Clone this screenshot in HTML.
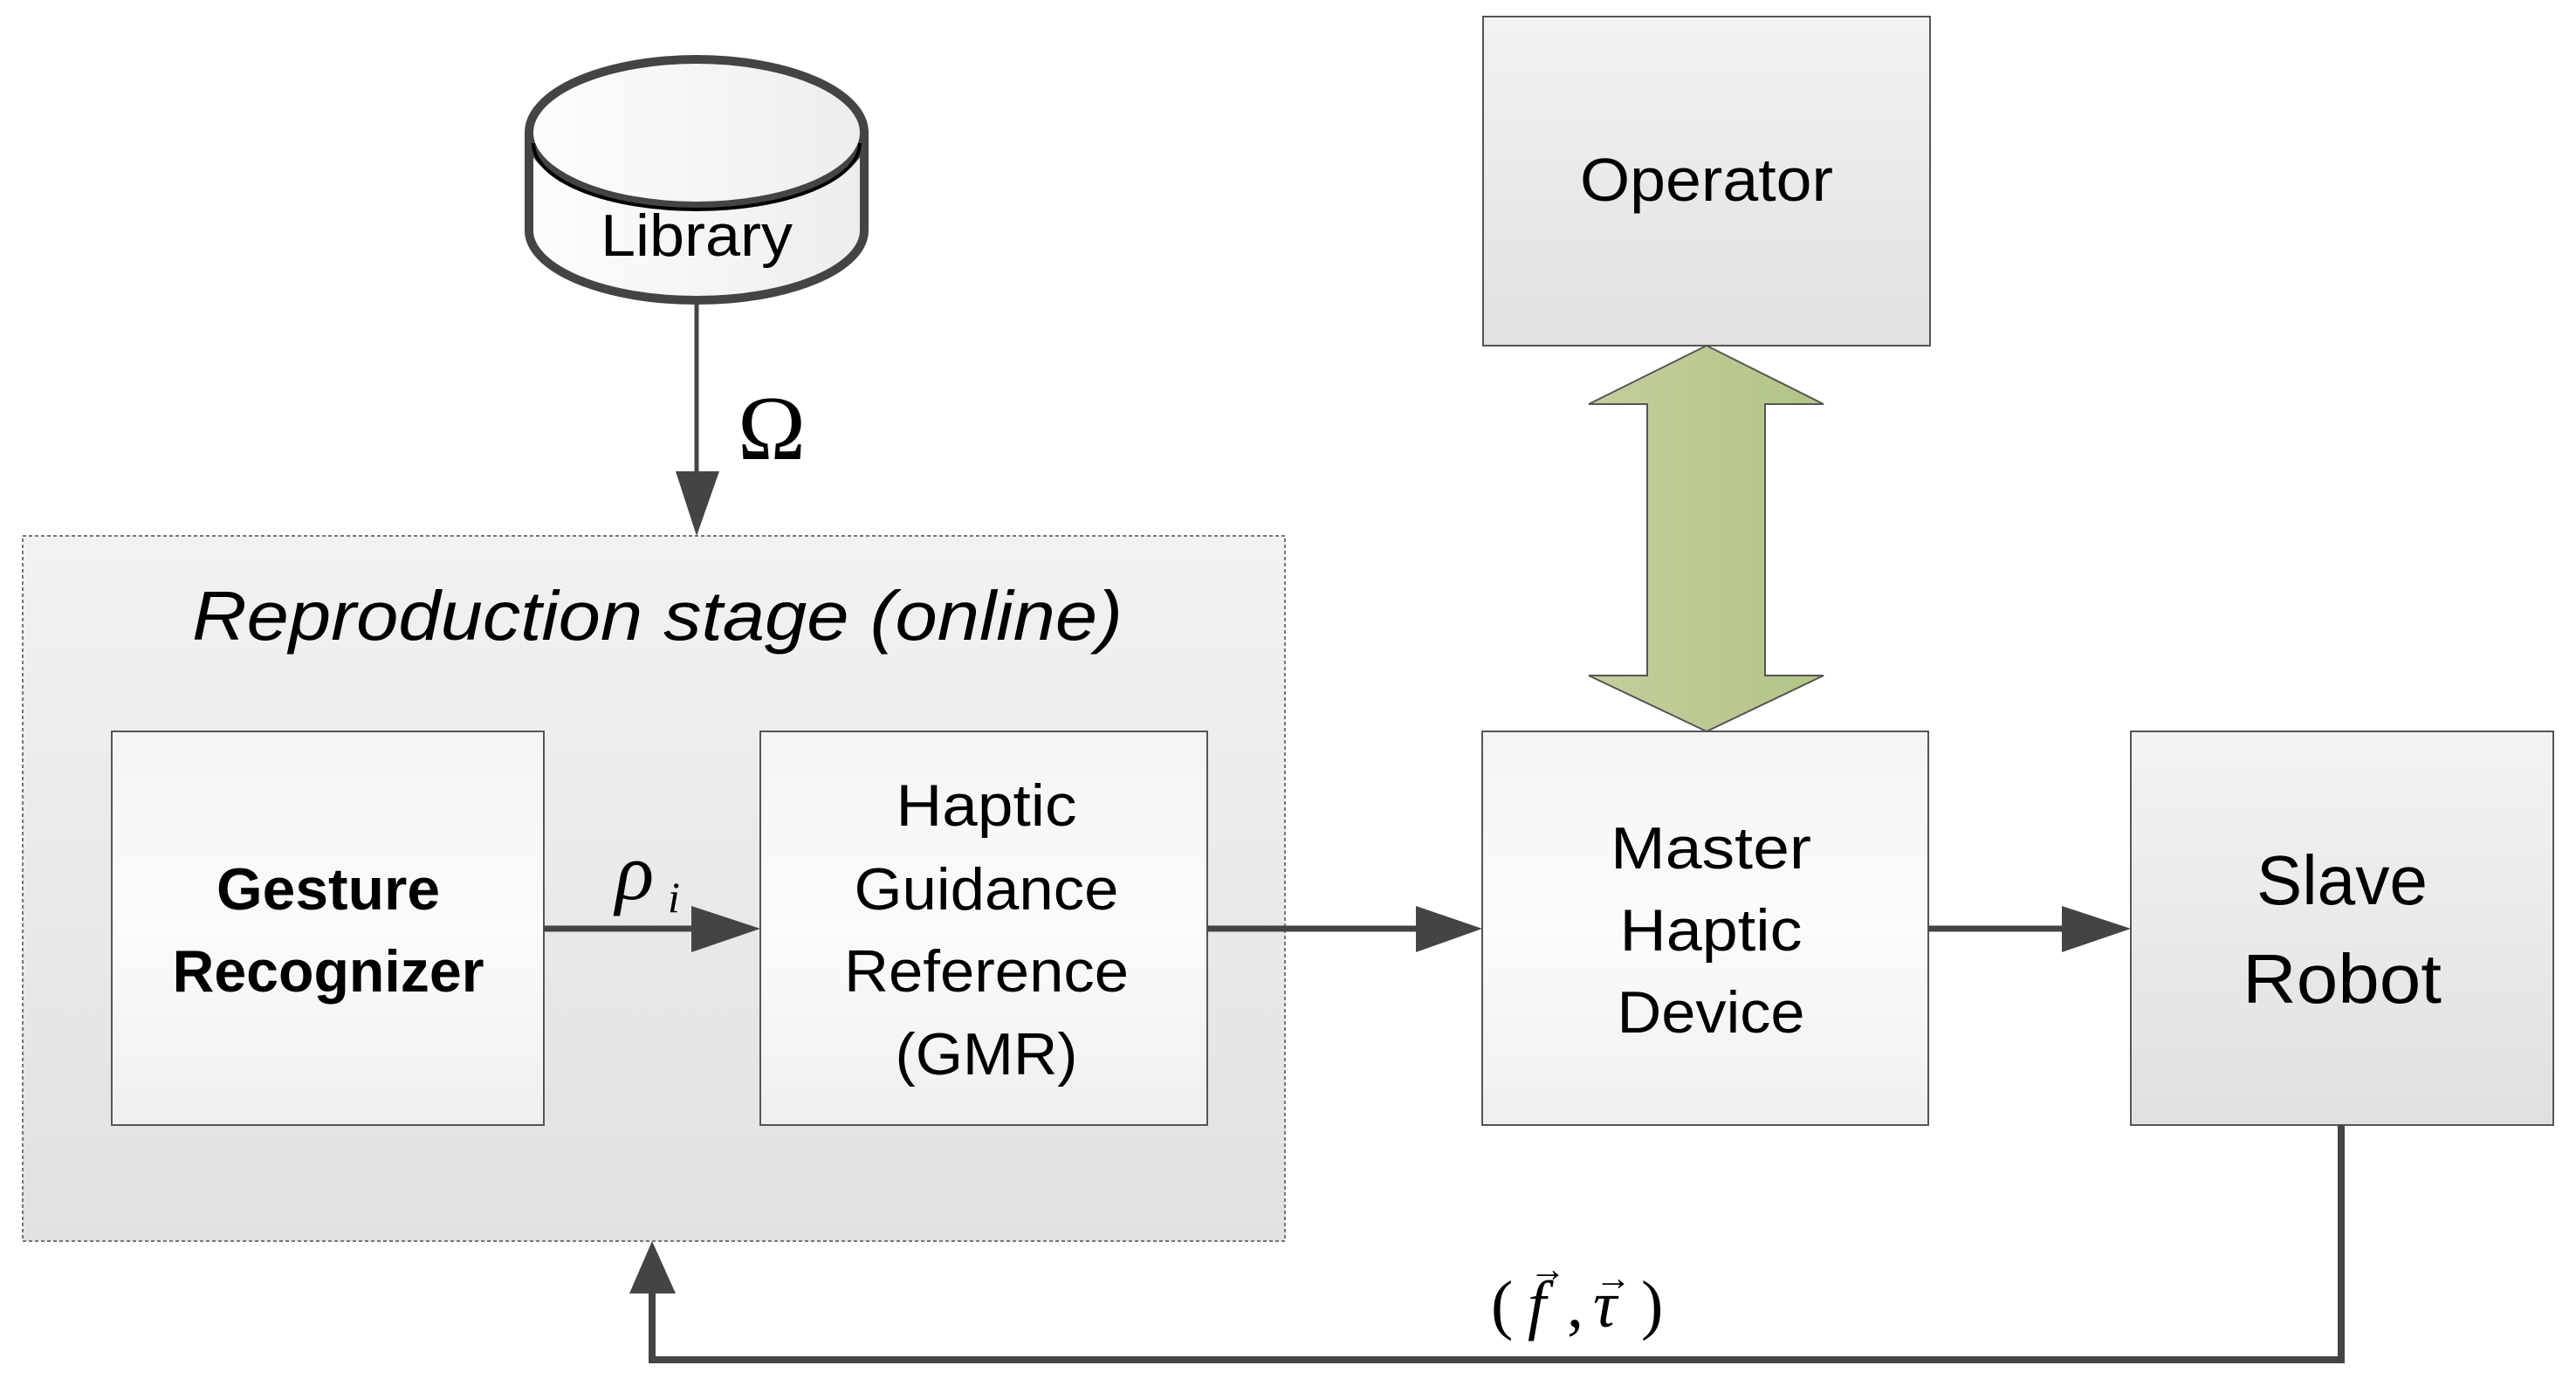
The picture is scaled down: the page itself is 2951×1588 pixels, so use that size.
<!DOCTYPE html>
<html><head><meta charset="utf-8"><style>html,body{margin:0;padding:0;background:#fff}svg{display:block}</style></head>
<body>
<svg width="2951" height="1588" viewBox="0 0 2951 1588" xmlns="http://www.w3.org/2000/svg">
<defs>
<linearGradient id="gbox" x1="0" y1="0" x2="0" y2="1"><stop offset="0" stop-color="#f2f2f2"/><stop offset="1" stop-color="#e1e1e1"/></linearGradient>
<linearGradient id="wbox" x1="0" y1="0" x2="0" y2="1"><stop offset="0" stop-color="#f4f4f4"/><stop offset="0.5" stop-color="#fbfbfb"/><stop offset="1" stop-color="#efefef"/></linearGradient>
<linearGradient id="sbox" x1="0" y1="0" x2="0" y2="1"><stop offset="0" stop-color="#f3f3f3"/><stop offset="1" stop-color="#e0e0e0"/></linearGradient>
<linearGradient id="green" x1="0" y1="0" x2="1" y2="0"><stop offset="0" stop-color="#c3cf9d"/><stop offset="1" stop-color="#b2c486"/></linearGradient>
<linearGradient id="cyl" x1="0" y1="0" x2="1" y2="0"><stop offset="0" stop-color="#fdfdfd"/><stop offset="1" stop-color="#ededed"/></linearGradient>
</defs>

<rect x="26" y="614" width="1446" height="808" fill="url(#gbox)" stroke="#777" stroke-width="2" stroke-dasharray="4,3"/>
<text x="753" y="733" font-family="Liberation Sans, sans-serif" font-style="italic" font-size="80" text-anchor="middle" textLength="1066" lengthAdjust="spacingAndGlyphs">Reproduction stage (online)</text>

<path d="M606,152 L606,264 A192,80 0 0 0 990,264 L990,152" fill="url(#cyl)" stroke="#444" stroke-width="10"/>
<ellipse cx="798" cy="152" rx="192" ry="84" fill="url(#cyl)" stroke="#444" stroke-width="10"/>
<path d="M611,164 A187,76 0 0 0 985,164" fill="none" stroke="#000" stroke-width="4"/>
<text x="798" y="293" font-family="Liberation Sans, sans-serif" font-size="68" text-anchor="middle" textLength="220" lengthAdjust="spacingAndGlyphs">Library</text>

<line x1="798" y1="346" x2="798" y2="545" stroke="#444" stroke-width="5"/>
<polygon points="774,540 824,540 798,614" fill="#444"/>
<text x="884" y="526" font-family="Liberation Serif, serif" font-size="105" text-anchor="middle">Ω</text>

<rect x="1699" y="19" width="512" height="377" fill="url(#gbox)" stroke="#555" stroke-width="2"/>
<text x="1955" y="230" font-family="Liberation Sans, sans-serif" font-size="70" text-anchor="middle" textLength="290" lengthAdjust="spacingAndGlyphs">Operator</text>

<polygon points="1955,396 2089,463 2022,463 2022,774 2089,774 1955,838 1820,774 1887,774 1887,463 1820,463" fill="url(#green)" stroke="#555" stroke-width="2"/>

<rect x="128" y="838" width="495" height="451" fill="url(#wbox)" stroke="#555" stroke-width="2"/>
<text font-family="Liberation Sans, sans-serif" font-size="68" font-weight="bold" text-anchor="middle"><tspan x="376" y="1042" textLength="256" lengthAdjust="spacingAndGlyphs">Gesture</tspan><tspan x="376" y="1136" textLength="357" lengthAdjust="spacingAndGlyphs">Recognizer</tspan></text>

<rect x="871" y="838" width="512" height="451" fill="url(#wbox)" stroke="#555" stroke-width="2"/>
<text font-family="Liberation Sans, sans-serif" font-size="68" text-anchor="middle"><tspan x="1130" y="946" textLength="207" lengthAdjust="spacingAndGlyphs">Haptic</tspan><tspan x="1130" y="1042" textLength="303" lengthAdjust="spacingAndGlyphs">Guidance</tspan><tspan x="1130" y="1136" textLength="326" lengthAdjust="spacingAndGlyphs">Reference</tspan><tspan x="1130" y="1231" textLength="209" lengthAdjust="spacingAndGlyphs">(GMR)</tspan></text>

<rect x="1698" y="838" width="511" height="451" fill="url(#wbox)" stroke="#555" stroke-width="2"/>
<text font-family="Liberation Sans, sans-serif" font-size="68" text-anchor="middle"><tspan x="1960" y="995" textLength="230" lengthAdjust="spacingAndGlyphs">Master</tspan><tspan x="1960" y="1089" textLength="209" lengthAdjust="spacingAndGlyphs">Haptic</tspan><tspan x="1960" y="1183" textLength="215" lengthAdjust="spacingAndGlyphs">Device</tspan></text>

<rect x="2441" y="838" width="484" height="451" fill="url(#sbox)" stroke="#555" stroke-width="2"/>
<text font-family="Liberation Sans, sans-serif" font-size="80" text-anchor="middle"><tspan x="2683" y="1036" textLength="196" lengthAdjust="spacingAndGlyphs">Slave</tspan><tspan x="2683" y="1149" textLength="228" lengthAdjust="spacingAndGlyphs">Robot</tspan></text>

<line x1="623" y1="1064" x2="796" y2="1064" stroke="#444" stroke-width="7"/>
<polygon points="792,1038 871,1064 792,1091" fill="#444"/>
<text x="705" y="1030" font-family="Liberation Serif, serif" font-style="italic" font-size="92">ρ</text>
<text x="765" y="1045" font-family="Liberation Serif, serif" font-style="italic" font-size="50">i</text>

<line x1="1383" y1="1064" x2="1626" y2="1064" stroke="#444" stroke-width="7"/>
<polygon points="1622,1038 1698,1064 1622,1091" fill="#444"/>

<line x1="2209" y1="1064" x2="2366" y2="1064" stroke="#444" stroke-width="7"/>
<polygon points="2362,1038 2441,1064 2362,1091" fill="#444"/>

<polyline points="2682,1289 2682,1558 747,1558 747,1478" fill="none" stroke="#444" stroke-width="8"/>
<polygon points="721,1482 747,1422 774,1482" fill="#444"/>
<g font-family="Liberation Serif, serif" font-size="76">
<text x="1708" y="1520">(</text>
<text x="1750" y="1520" font-style="italic">f</text>
<text x="1795" y="1520">,</text>
<text x="1825" y="1520" font-style="italic">τ</text>
<text x="1880" y="1520">)</text>
<text x="1752" y="1468" font-size="42">→</text>
<text x="1827" y="1478" font-size="42">→</text>
</g>
</svg>
</body></html>
